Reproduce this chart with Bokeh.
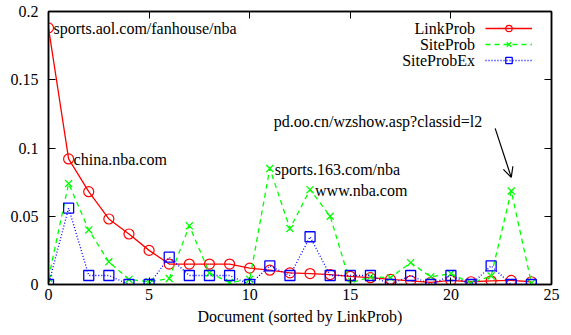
from bokeh.plotting import figure
from bokeh.models import (LinearAxis, Range1d, FixedTicker, PrintfTickFormatter,
                          Label, Arrow, OpenHead, Legend, LegendItem, ColumnDataSource)
from bokeh.core.properties import value
from bokeh.embed import file_html
from bokeh.resources import INLINE

# Documents ranked by LinkProb, with the three probability estimates
docs = list(range(25))
link_prob = [0.188, 0.092, 0.068, 0.048, 0.037, 0.025, 0.015, 0.015, 0.015, 0.015,
             0.012, 0.0105, 0.0085, 0.008, 0.0073, 0.006, 0.005, 0.0037, 0.0027, 0.0015,
             0.003, 0.002, 0.0027, 0.003, 0.002]
site_prob = [0.0046, 0.074, 0.040, 0.0166, 0.0037, 0.002, 0.0044, 0.043, 0.0085, 0.0015,
             0.0037, 0.085, 0.041, 0.0695, 0.050, 0.001, 0.0056, 0.005, 0.016, 0.0056,
             0.008, 0.001, 0.0063, 0.0685, 0.001]
site_prob_ex = [0.0, 0.056, 0.0066, 0.0066, 0.0, 0.0, 0.020, 0.0066, 0.0066, 0.0066,
                0.0, 0.0136, 0.0066, 0.035, 0.0066, 0.0066, 0.0066, 0.0, 0.0066, 0.0,
                0.0066, 0.0, 0.0136, 0.0, 0.0]

x_ticks = [0, 5, 10, 15, 20, 25]
y_ticks = [0, 0.05, 0.1, 0.15, 0.2]
series_names = ["LinkProb", "SiteProb", "SiteProbEx"]

# Notable documents: (index, series, text)
notes = [(0, "link", "sports.aol.com/fanhouse/nba"),
         (1, "link", "china.nba.com"),
         (11, "site", "sports.163.com/nba"),
         (13, "site", "www.nba.com")]
arrow_doc = 23
arrow_text = "pd.oo.cn/wzshow.asp?classid=l2"

FONT = "Liberation Serif"
FS = "16px"

p = figure(width=571, height=335, output_backend="svg", toolbar_location=None,
           x_range=Range1d(0, 25), y_range=Range1d(0, 0.2),
           min_border_left=48, min_border_right=20, min_border_top=11,
           min_border_bottom=51, x_axis_label="Document (sorted by LinkProb)")
p.grid.visible = False
p.background_fill_color = "white"
p.border_fill_color = "white"
p.outline_line_color = "black"
p.outline_line_width = 1.5

for ax in p.xaxis:
    ax.ticker = FixedTicker(ticks=x_ticks)
for ax in p.yaxis:
    ax.ticker = FixedTicker(ticks=y_ticks)
    ax.formatter = PrintfTickFormatter(format="%g")

for ax in list(p.xaxis) + list(p.yaxis):
    ax.major_tick_in = 7
    ax.major_tick_out = 0
    ax.minor_tick_line_color = None
    ax.axis_line_color = "black"
    ax.axis_line_width = 1.5
    ax.major_tick_line_color = "black"
    ax.major_tick_line_width = 1
    ax.major_label_text_font = FONT
    ax.major_label_text_font_size = FS
    ax.major_label_text_color = "black"
    ax.axis_label_text_font = FONT
    ax.axis_label_text_font_size = FS
    ax.axis_label_text_font_style = "normal"
    ax.axis_label_text_color = "black"
p.xaxis.major_label_standoff = 4
p.xaxis.axis_label_standoff = 5
p.yaxis.major_label_standoff = 10

# mirrored tick marks on top and right (no labels)
for side, ticks in (("above", x_ticks), ("right", y_ticks)):
    ax = LinearAxis(ticker=FixedTicker(ticks=ticks), major_tick_in=7, major_tick_out=0,
                    minor_tick_line_color=None, major_label_text_font_size="1px",
                    major_label_text_color=None, major_label_standoff=0,
                    axis_line_color="black", axis_line_width=1.5)
    p.add_layout(ax, side)

src = ColumnDataSource(dict(doc=docs, link=link_prob, site=site_prob, ex=site_prob_ex))

RED, GREEN, BLUE = "#ff0000", "#00ff00", "#0000ff"

l1 = p.line("doc", "link", source=src, line_color=RED, line_width=1.3)
m1 = p.scatter("doc", "link", source=src, marker="circle", size=10, line_color=RED,
               fill_color=None, line_width=1.2)
l2 = p.line("doc", "site", source=src, line_color=GREEN, line_width=1.3, line_dash="5 4")
m2 = p.scatter("doc", "site", source=src, marker="x", size=10, line_color=GREEN,
               line_width=1.3)
l3 = p.line("doc", "ex", source=src, line_color=BLUE, line_width=1.3, line_dash="1 2")
m3 = p.scatter("doc", "ex", source=src, marker="square", size=10, line_color=BLUE,
               fill_color=None, line_width=1.3)

# legend: samples only; series names are drawn to their left
legend = Legend(items=[LegendItem(label=value(" "), renderers=[l1, m1]),
                       LegendItem(label=value("  "), renderers=[l2, m2]),
                       LegendItem(label=value("   "), renderers=[l3, m3])],
                location=(437, 216), orientation="vertical", glyph_width=47,
                glyph_height=16, label_height=16, label_width=0, label_standoff=0,
                label_text_font_size="1px", label_text_color=None, spacing=0,
                padding=0, margin=0, border_line_color=None, background_fill_alpha=0)
p.add_layout(legend)

for i, name in enumerate(series_names):
    p.add_layout(Label(x=21.2, y=0.1878 - i * 0.0118, text=name, text_font=FONT,
                       text_font_size=FS, text_align="right", text_baseline="middle",
                       text_color="black"))

series = {"link": link_prob, "site": site_prob}
for idx, key, txt in notes:
    p.add_layout(Label(x=docs[idx], y=series[key][idx], text=txt, x_offset=5, y_offset=-1,
                       text_font=FONT, text_font_size=FS, text_align="left",
                       text_baseline="middle", text_color="black"))

p.add_layout(Label(x=11.2, y=0.1195, text=arrow_text, text_font=FONT, text_font_size=FS,
                   text_align="left", text_baseline="middle", text_color="black"))
p.add_layout(Arrow(x_start=22.2, y_start=0.1144, x_end=docs[arrow_doc],
                   y_end=site_prob[arrow_doc] + 0.01, line_color="black", line_width=1.2,
                   end=OpenHead(size=10, line_color="black", line_width=1.2)))

open("out.html", "w").write(file_html(p, INLINE))
